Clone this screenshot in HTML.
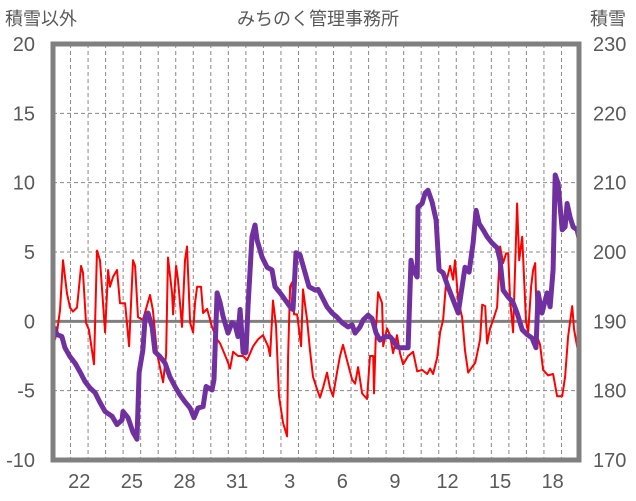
<!DOCTYPE html>
<html><head><meta charset="utf-8">
<style>
html,body{margin:0;padding:0;background:#fff;}
svg{display:block;}
text{font-family:"Liberation Sans","Noto Sans CJK JP",sans-serif;fill:#595959;}
</style></head>
<body>
<svg id="chart" width="636" height="501" viewBox="0 0 636 501" xmlns="http://www.w3.org/2000/svg">
<text x="318" y="25" text-anchor="middle" font-size="18">みちのく管理事務所</text>
<text x="5" y="25" font-size="18">積雪以外</text>
<text x="590" y="25" font-size="18">積雪</text>
<g id="grid"></g><g id="series"></g><g id="axes"></g>
</svg>
<script>
const leftTicks=[20,15,10,5,0,-5,-10];
const rightTicks=[230,220,210,200,190,180,170];
const xLabels=["22","25","28","31","3","6","9","12","15","18"];
const xLabelDays=[1,4,7,10,13,16,19,22,25,28];
const dayCount=30;
const redT=[0.06,0.23,0.40,0.57,0.80,0.97,1.14,1.37,1.60,1.71,1.88,2.05,2.34,2.51,2.68,2.97,3.14,3.25,3.42,3.65,3.82,4.11,4.34,4.56,4.68,4.85,5.13,5.53,5.70,5.93,6.28,6.45,6.56,6.79,6.85,7.02,7.13,7.36,7.53,7.64,7.82,7.99,8.10,8.22,8.44,8.56,8.79,9.07,9.36,9.53,9.70,9.93,10.10,10.27,10.55,10.84,11.07,11.41,11.69,11.98,12.27,12.38,12.55,12.72,12.89,13.12,13.35,13.41,13.52,13.63,13.75,13.92,14.15,14.26,14.49,14.66,14.83,15.06,15.23,15.40,15.63,15.80,15.97,16.20,16.37,16.54,16.77,17.06,17.23,17.40,17.63,17.91,18.08,18.26,18.31,18.43,18.54,18.77,18.83,19.05,19.22,19.40,19.62,19.79,19.97,20.25,20.54,20.77,21.05,21.34,21.51,21.68,21.91,22.08,22.25,22.42,22.65,22.82,22.93,23.11,23.33,23.50,23.68,23.90,24.08,24.36,24.48,24.65,24.76,24.93,25.10,25.33,25.50,25.67,25.84,25.96,26.07,26.24,26.47,26.59,26.76,26.98,27.10,27.27,27.38,27.50,27.61,27.78,27.95,28.24,28.52,28.75,29.04,29.21,29.38,29.61,29.72,29.89,30.00];
const redV=[-1.5,-0.8,0.8,4.4,2,1,0.7,1,4,3.5,-0.1,-0.6,-3.1,5.1,4.4,-0.8,3.7,2.5,3.2,3.7,1.3,1.3,-1.8,4.4,4,0.3,0.1,1.9,0.8,-2.3,-4.4,-2.4,4.6,2,0.5,4,3,-0.4,4.4,5.4,-0.1,-0.8,1.3,2.5,2.5,0.6,0.9,-0.4,-1.3,-1.6,-2.1,-2.8,-3.4,-2.2,-2.5,-2.5,-2.8,-1.8,-1.3,-1,-1.8,-2.5,1.5,-0.3,-5.4,-7.3,-8.3,-2.5,2.5,2.8,0.5,0.5,-1.8,2.3,0.1,-2.1,-4,-4.9,-5.5,-4.8,-3.7,-4.8,-5.4,-3.7,-2.5,-1.7,-2.8,-4.2,-4.5,-3.3,-5.2,-5.6,-2.5,-2.5,-5.2,-0.4,2.1,1.3,-1.8,-0.5,-1,-2.3,-1,-2.3,-3.1,-2.5,-2.2,-3.6,-3.5,-3.8,-3.4,-3.8,-2.6,-0.8,0.1,2.8,4,3,4.4,1.5,0.3,-2.1,-3.7,-3.3,-3,-1.3,1.2,1.1,-1.6,-0.5,0.1,1,5.4,4.2,4.9,4.9,1.5,-0.8,8.5,4.4,6.1,0,-0.8,2.5,3.7,4.2,-1.1,-1.7,-3.5,-3.9,-3.8,-5.4,-5.4,-4,-1.1,1.1,-0.6,-1.8,-2.5];
const snowT=[0.06,0.23,0.51,0.68,0.97,1.25,1.54,1.83,2.11,2.40,2.68,2.97,3.37,3.65,3.94,3.99,4.28,4.56,4.79,4.91,5.13,5.25,5.42,5.65,5.82,6.10,6.39,6.67,6.96,7.24,7.53,7.82,8.04,8.27,8.56,8.73,9.07,9.18,9.36,9.53,9.70,9.98,10.21,10.38,10.55,10.67,10.84,11.01,11.12,11.35,11.52,11.64,11.92,12.21,12.49,12.66,12.95,13.24,13.52,13.69,13.86,14.09,14.38,14.60,14.95,15.12,15.35,15.63,15.92,16.20,16.49,16.83,17.06,17.23,17.51,17.69,17.97,18.20,18.43,18.65,18.94,19.22,19.40,19.62,19.79,20.25,20.42,20.54,20.77,20.82,21.05,21.22,21.39,21.62,21.85,22.02,22.25,22.53,22.82,23.11,23.33,23.50,23.73,23.96,24.13,24.30,24.53,24.76,25.04,25.33,25.50,25.67,25.96,26.24,26.47,26.76,27.04,27.32,27.55,27.67,27.89,28.18,28.35,28.52,28.64,28.81,29.04,29.21,29.32,29.49,29.67,29.89,30.00];
const snowV=[189.2,188.1,187.8,186.2,184.9,184,182.7,181.3,180.4,179.7,178.3,177,176.3,175.1,175.8,177,176.1,174,173,182.6,185.9,190.5,191.2,189.2,185.6,184.9,184,182,180.6,179.4,178.4,177.5,176.1,177.5,177.7,180.6,180.1,181.6,194.1,192.7,190.7,188.3,189.8,189.5,187.8,191.7,185.5,185.5,192.1,202.2,203.9,201.7,199.3,197.8,197.4,195,194.1,193.1,192.1,191.7,199.9,199.6,197,195,194.5,194.6,193.5,192.1,191.2,190.6,189.8,189.2,189.5,188.3,189.2,190.2,190.9,190.4,188.3,187.3,187.8,187.8,187.3,186.3,186.2,186.2,198.8,197.4,196.4,206.5,207,208.5,208.9,207.2,204.6,197.4,197,195,193.1,191.2,195,197.8,197.1,201.3,206,204.1,203.2,202.2,201.3,200.6,198.8,194.5,193.5,192.7,191.2,188.8,188.1,187.6,186.2,194.1,191.2,194.1,192.1,197.4,211.1,209.9,203.2,203.6,207,205,203.6,203.2,202];

const L=53,R=579,T=44,B=460;
const NS="http://www.w3.org/2000/svg";
const xDay=d=>L+(R-L)*d/dayCount;
const yL=v=>B-(v+10)/30*(B-T);
const yR=v=>B-(v-170)/60*(B-T);
function mk(tag,attrs,parent){const e=document.createElementNS(NS,tag);for(const k in attrs)e.setAttribute(k,attrs[k]);parent.appendChild(e);return e;}
const grid=document.getElementById('grid'),ser=document.getElementById('series'),ax=document.getElementById('axes');
for(let d=1;d<dayCount;d++){
  const ln=mk('line',{x1:xDay(d),x2:xDay(d),y1:T,y2:B,stroke:'#888','stroke-width':1,'stroke-dasharray':'4,3'},grid);
  
  
}
leftTicks.forEach((v,i)=>{
  if(v!==20&&v!==-10&&v!==0){
    const g=mk('line',{x1:L,x2:R,y1:yL(v),y2:yL(v),stroke:'#888','stroke-width':1,'stroke-dasharray':'4,3'},grid);
    
    
  }
  const t=mk('text',{x:35,y:yL(v)+7,'text-anchor':'end','font-size':20},ax);t.textContent=v;
  
  
  const r=mk('text',{x:593,y:yR(rightTicks[i])+7,'font-size':20},ax);r.textContent=rightTicks[i];
  
  
});
xLabels.forEach((s,i)=>{
  const t=mk('text',{x:xDay(xLabelDays[i]+0.5),y:488,'text-anchor':'middle','font-size':20},ax);t.textContent=s;
  
  
});
const z=mk('line',{x1:L,x2:R,y1:yL(0),y2:yL(0),stroke:'#808080','stroke-width':3},grid);


const red=mk('polyline',{points:redT.map((t,i)=>xDay(t).toFixed(1)+','+yL(redV[i]).toFixed(1)).join(' '),fill:'none',stroke:'#ff0000','stroke-width':2,'stroke-linejoin':'round'},ser);


const pur=mk('polyline',{points:snowT.map((t,i)=>xDay(t).toFixed(1)+','+yR(snowV[i]).toFixed(1)).join(' '),fill:'none',stroke:'#7030a0','stroke-width':5,'stroke-linejoin':'round'},ser);


const fr=mk('rect',{x:L,y:T,width:R-L,height:B-T,fill:'none',stroke:'#808080','stroke-width':5},ax);


</script>
</body></html>
